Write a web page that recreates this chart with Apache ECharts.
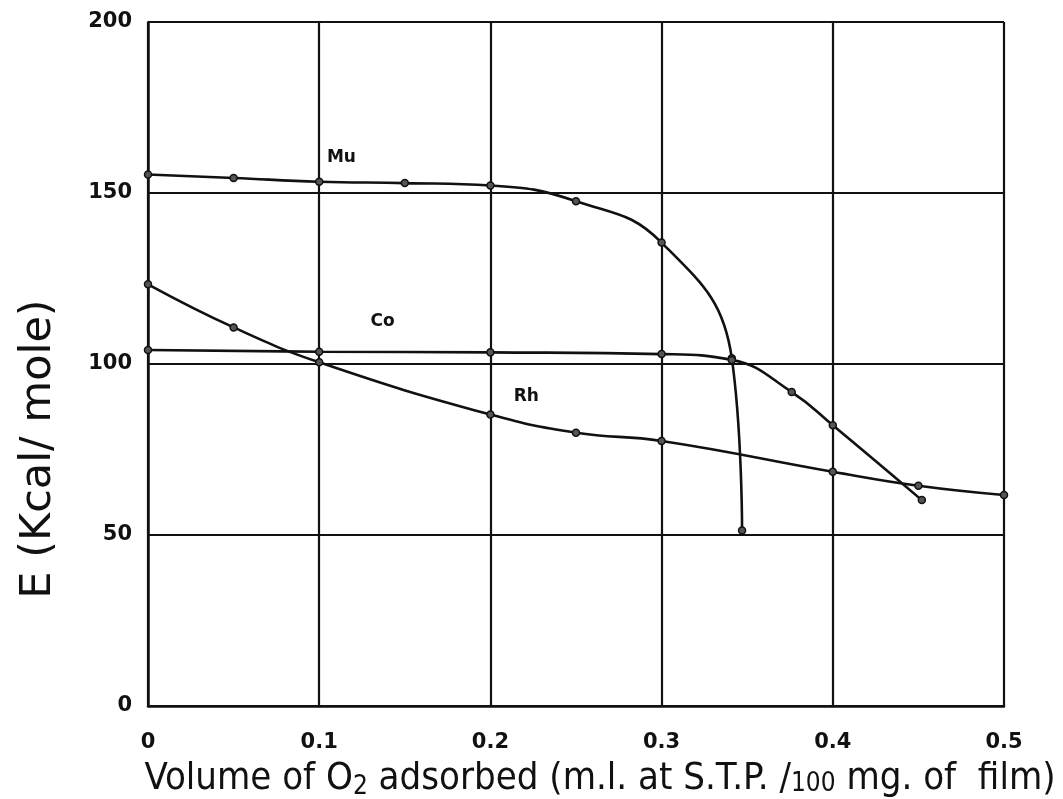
<!DOCTYPE html>
<html>
<head>
<meta charset="utf-8">
<script src="https://cdn.jsdelivr.net/npm/echarts@6/dist/echarts.min.js"></script>
<style>
  html, body { margin: 0; padding: 0; background: #fff; }
  #chart { width: 1063px; height: 799px; }
</style>
</head>
<body>
<div id="chart"></div>
<script>
// values: [volume of O2, E (kcal/mole)]
const muData = [[0, 155.4], [0.05, 154.4], [0.1, 153.3], [0.15, 152.9], [0.2, 152.2],
  [0.25, 147.6], [0.3, 135.5], [0.341, 101.7], [0.347, 51.3]]
const coData = [[0, 104.1], [0.1, 103.6], [0.2, 103.4], [0.3, 102.9], [0.341, 101.2],
  [0.376, 91.8], [0.4, 82.1], [0.452, 60.2]]
const rhData = [[0, 123.3], [0.05, 110.7], [0.1, 100.5], [0.2, 85.2], [0.25, 79.9],
  [0.3, 77.5], [0.4, 68.5], [0.45, 64.4], [0.5, 61.7]]
const curveLabels = [
  { name: 'Mu', coord: [0.113, 160.5] },
  { name: 'Co', coord: [0.137, 112.5] },
  { name: 'Rh', coord: [0.221, 90.4] },
]

const INK = '#111'
const NARROW = 'Liberation Sans Narrow, DejaVu Sans Condensed, sans-serif'
const chart = echarts.init(document.getElementById('chart'), null, { renderer: 'canvas' })

const lineSeries = (name, data) => ({
  name, type: 'line', data,
  smooth: 0.45,
  lineStyle: { color: INK, width: 2.6 },
  symbol: 'circle', symbolSize: 7,
  itemStyle: { color: '#555', borderColor: INK, borderWidth: 1.5 },
  z: 3,
})

const option = {
  backgroundColor: '#fff',
  animation: false,
  grid: { left: 148, right: 59, top: 22, bottom: 93, containLabel: false, outerBoundsMode: 'none' },
  xAxis: {
    type: 'value', min: 0, max: 0.5, interval: 0.1,
    name: 'Volume of O{sub|2} adsorbed (m.l. at S.T.P. /{small|100} mg. of  film)',
    nameLocation: 'middle', nameGap: 52,
    nameTextStyle: {
      color: INK, fontSize: 38, fontFamily: NARROW, padding: [0, 0, 0, 48],
      rich: {
        sub: { fontSize: 26, color: INK, padding: [16, 0, 0, 0], fontFamily: NARROW },
        small: { fontSize: 26, color: INK, padding: [10, 0, 0, 0], fontFamily: NARROW },
      },
    },
    axisLine: { lineStyle: { color: INK, width: 2.5 } },
    axisTick: { show: false },
    axisLabel: {
      color: INK, fontSize: 21, fontWeight: 'bold', margin: 26,
      fontFamily: 'DejaVu Sans, sans-serif',
      formatter: v => (v === 0 ? '0' : v.toFixed(1)),
    },
    splitLine: { show: true, lineStyle: { color: INK, width: 2.2 } },
  },
  yAxis: {
    type: 'value', min: 0, max: 200, interval: 50,
    name: 'E (Kcal/ mole)',
    nameLocation: 'middle', nameGap: 88, nameRotate: 90,
    nameTextStyle: { color: INK, fontSize: 43, fontFamily: 'DejaVu Sans, sans-serif', padding: [0, 170, 0, 0] },
    axisLine: { show: true, lineStyle: { color: INK, width: 2.5 } },
    axisTick: { show: false },
    axisLabel: { color: INK, fontSize: 21, fontWeight: 'bold', margin: 16, fontFamily: 'DejaVu Sans, sans-serif' },
    splitLine: { show: true, lineStyle: { color: INK, width: 2.2 } },
  },
  series: [
    lineSeries('Mu', muData),
    lineSeries('Co', coData),
    lineSeries('Rh', rhData),
    {
      name: 'labels', type: 'scatter', data: [], silent: true,
      markPoint: {
        symbol: 'circle', symbolSize: 1,
        itemStyle: { color: 'rgba(0,0,0,0)' },
        label: {
          show: true, position: 'inside', formatter: p => p.name,
          color: INK, fontSize: 17, fontWeight: 'bold', fontFamily: 'DejaVu Sans, sans-serif',
        },
        data: curveLabels.map(l => ({ name: l.name, coord: l.coord })),
      },
    },
  ],
}

chart.setOption(option)
</script>
</body>
</html>
